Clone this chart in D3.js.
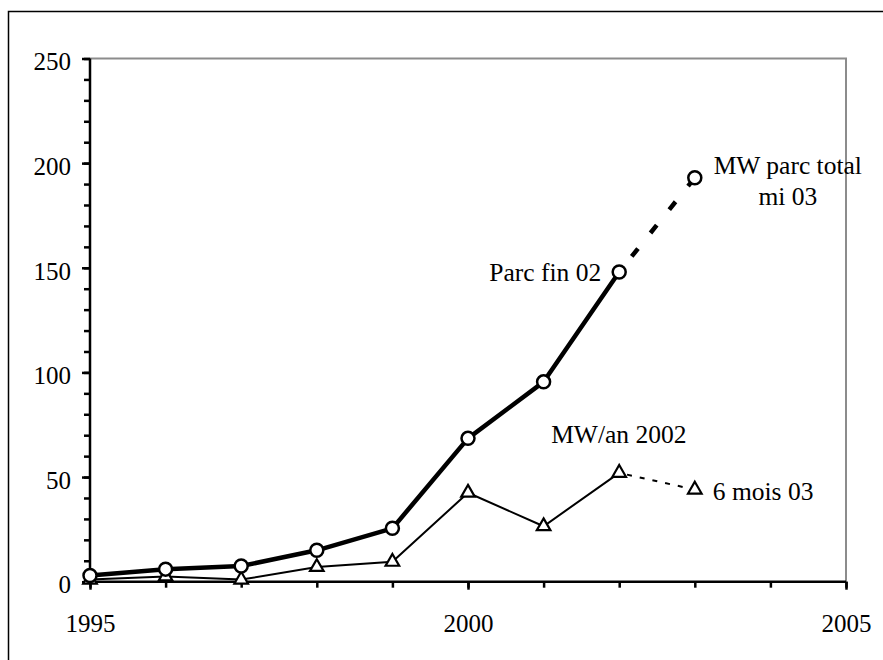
<!DOCTYPE html>
<html>
<head>
<meta charset="utf-8">
<script src="https://cdn.jsdelivr.net/npm/d3@7"></script>
<style>
  html, body { margin: 0; padding: 0; background: #fff; }
  svg { display: block; font-family: "Liberation Serif", "Times New Roman", serif; }
  .tick text { font-size: 25px; fill: #000; }
  .label { font-size: 25.5px; fill: #000; }
</style>
</head>
<body>
<svg id="chart" width="883" height="660"></svg>
<script>
// data
const years = [1995, 1996, 1997, 1998, 1999, 2000, 2001, 2002, 2003];
const parcTotal = [3, 6, 7.5, 15, 25.5, 68.5, 95.5, 148, 193];   // MW parc total
const mwPerYear = [1, 2.5, 1, 7, 9.5, 42.5, 26.5, 52, 44];      // MW/an
const xMajorTicks = [1995, 2000, 2005];
const xMinorTicks = d3.range(1995, 2006);
const yMajorTicks = [0, 50, 100, 150, 200, 250];
const yMinorTicks = d3.range(0, 251, 10);

const svg = d3.select("#chart");
const margin = { top: 58.5, right: 37, bottom: 78.3, left: 90 };
const width = 883 - margin.left - margin.right;
const height = 660 - margin.top - margin.bottom;
const serif = '"Liberation Serif", "Times New Roman", serif';

// outer frame (cut off at right and bottom)
svg.append("rect")
    .attr("x", 8.5).attr("y", 11.5)
    .attr("width", 900).attr("height", 700)
    .attr("fill", "none").attr("stroke", "#000").attr("stroke-width", 1.5);

const chart = svg.append("g").attr("transform", `translate(${margin.left},${margin.top})`);

const x = d3.scaleLinear().domain([1995, 2005]).range([0, width]);
const y = d3.scaleLinear().domain([0, 250]).range([height, 0]);

// grey plot border on top and right
chart.append("path")
    .attr("d", `M0,0H${width}V${height}`)
    .attr("fill", "none").attr("stroke", "#8c8c8c").attr("stroke-width", 2);

// axes
const yMinor = chart.append("g").call(d3.axisLeft(y).tickValues(yMinorTicks).tickSize(6).tickFormat(""));
const yMajor = chart.append("g").call(d3.axisLeft(y).tickValues(yMajorTicks).tickSize(8).tickPadding(11));
yMajor.selectAll("text").attr("dy", "0.45em");

const xMinor = chart.append("g").attr("transform", `translate(0,${height})`)
    .call(d3.axisBottom(x).tickValues(xMinorTicks).tickSize(6).tickFormat(""));
const xMajor = chart.append("g").attr("transform", `translate(0,${height})`)
    .call(d3.axisBottom(x).tickValues(xMajorTicks).tickSize(8).tickPadding(25).tickFormat(d3.format("d")));

[yMinor, yMajor, xMinor, xMajor].forEach(g => {
    g.attr("font-family", serif).attr("font-size", 25);
    g.selectAll(".domain").attr("stroke", "#000").attr("stroke-width", 2.5);
    g.selectAll("line").attr("stroke", "#000").attr("stroke-width", 2.5);
});
yMinor.select(".domain").remove();
xMinor.select(".domain").remove();
yMajor.select(".domain").attr("d", `M0,0V${height}`);
xMajor.select(".domain").attr("d", `M0,0H${width}`);

const parc = years.map((yr, i) => ({ year: yr, v: parcTotal[i] }));
const annual = years.map((yr, i) => ({ year: yr, v: mwPerYear[i] }));
const line = d3.line().x(d => x(d.year)).y(d => y(d.v));

// MW/an thin line: solid to 2002, dotted to mid 2003
chart.append("path").datum(annual.slice(0, 8)).attr("d", line)
    .attr("fill", "none").attr("stroke", "#000").attr("stroke-width", 2);
chart.append("path").datum(annual.slice(7)).attr("d", line)
    .attr("fill", "none").attr("stroke", "#000").attr("stroke-width", 2)
    .attr("stroke-dasharray", "5,8").attr("stroke-dashoffset", -8);

// parc total thick line: solid to 2002, dashed to mid 2003
chart.append("path").datum(parc.slice(0, 8)).attr("d", line)
    .attr("fill", "none").attr("stroke", "#000").attr("stroke-width", 4.5)
    .attr("stroke-linejoin", "round");
chart.append("path").datum(parc.slice(7)).attr("d", line)
    .attr("fill", "none").attr("stroke", "#000").attr("stroke-width", 4.5)
    .attr("stroke-dasharray", "10,20").attr("stroke-dashoffset", 10);

// markers
chart.selectAll(".tri").data(annual).join("path")
    .attr("class", "tri")
    .attr("transform", d => `translate(${x(d.year)},${y(d.v)})`)
    .attr("d", d3.symbol(d3.symbolTriangle, 80))
    .attr("fill", "#fff").attr("stroke", "#000").attr("stroke-width", 2.2);

chart.selectAll(".dot").data(parc).join("circle")
    .attr("class", "dot")
    .attr("cx", d => x(d.year)).attr("cy", d => y(d.v)).attr("r", 6.5)
    .attr("fill", "#fff").attr("stroke", "#000").attr("stroke-width", 2.5);

// annotations
const last = parc[8], p02 = parc[7], a02 = annual[7], a03 = annual[8];
const t1 = chart.append("text").attr("class", "label").attr("text-anchor", "middle");
t1.append("tspan").attr("x", x(last.year) + 93).attr("y", y(last.v) - 4).text("MW parc total");
t1.append("tspan").attr("x", x(last.year) + 93).attr("y", y(last.v) + 27.5).text("mi 03");

chart.append("text").attr("class", "label").attr("text-anchor", "end")
    .attr("x", x(p02.year) - 18).attr("y", y(p02.v) + 9.5).text("Parc fin 02");

chart.append("text").attr("class", "label")
    .attr("x", x(a02.year) - 68).attr("y", y(a02.v) - 30).text("MW/an 2002");

chart.append("text").attr("class", "label")
    .attr("x", x(a03.year) + 18).attr("y", y(a03.v) + 10).text("6 mois 03");
</script>
</body>
</html>
